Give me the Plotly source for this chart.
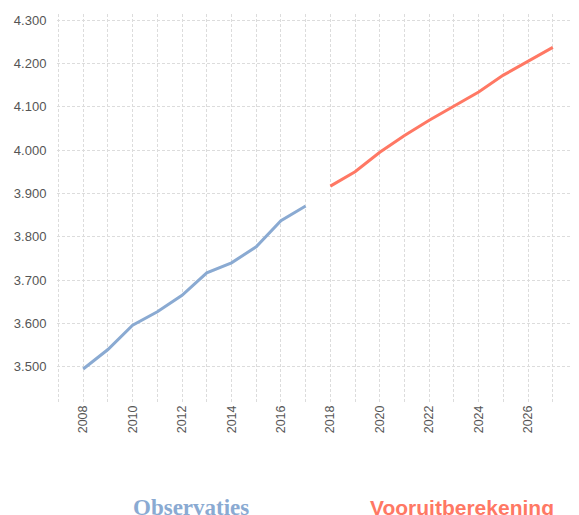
import plotly.graph_objects as go

obs_years = [2008, 2009, 2010, 2011, 2012, 2013, 2014, 2015, 2016, 2017]
obs_values = [3495, 3540, 3596, 3627, 3665, 3717, 3740, 3777, 3837, 3871]

fc_years = [2018, 2019, 2020, 2021, 2022, 2023, 2024, 2025, 2026, 2027]
fc_values = [3917, 3950, 3995, 4034, 4069, 4102, 4134, 4173, 4206, 4237]

legend_labels = ["Observaties", "Vooruitberekening"]
blue = "#8AAAD2"
red = "#FF7864"

fig = go.Figure()
fig.add_trace(go.Scatter(x=obs_years, y=obs_values, mode="lines",
                         line=dict(color=blue, width=3), name=legend_labels[0]))
fig.add_trace(go.Scatter(x=fc_years, y=fc_values, mode="lines",
                         line=dict(color=red, width=3), name=legend_labels[1]))

# the page body adds an 8px offset; compensate so the figure fills the window
OFF = 8
W, H = 579 - OFF, 515 - OFF
L, T, B = 57 - OFF, 14 - OFF, 113
plot_h = H - T - B
plot_w = W - L

def px_to_paper_y(py):
    return (H - B - (py - OFF)) / plot_h

def px_to_paper_x(px):
    return ((px - OFF) - L) / plot_w

grid = dict(showgrid=True, gridcolor="#dcdcdc", griddash="3px,2px", gridwidth=1)

fig.update_layout(
    width=W, height=H,
    margin=dict(l=L, r=0, t=T, b=B),
    plot_bgcolor="white", paper_bgcolor="white",
    showlegend=False,
    separators=",.",
    font=dict(family="Liberation Sans, Arial, sans-serif", size=13, color="#555555"),
    xaxis=dict(
        range=[2006.94, 2028.06],
        tick0=2008, dtick=2,
        tickangle=-90,
        ticklabeloverflow="allow",
        minor=dict(dtick=1, tick0=2008, **grid),
        ticks="", 
        zeroline=False, showline=False, automargin=False,
        tickfont=dict(size=12.5, color="#555555"),
        **grid,
    ),
    yaxis=dict(
        range=[3419, 4314],
        tick0=3500, dtick=100,
        tickformat=",d",
        ticks="outside", ticklen=7, tickcolor="rgba(0,0,0,0)",
        zeroline=False, showline=False, automargin=False,
        tickfont=dict(size=13, color="#555555"),
        **grid,
    ),
    annotations=[
        dict(text="<b>" + legend_labels[0] + "</b>", xref="paper", yref="paper",
             x=px_to_paper_x(191), y=px_to_paper_y(507.5), showarrow=False,
             xanchor="center", yanchor="middle",
             font=dict(family="Liberation Serif, DejaVu Serif, serif", size=23, color=blue)),
        dict(text="<b>" + legend_labels[1] + "</b>", xref="paper", yref="paper",
             x=px_to_paper_x(461.5), y=px_to_paper_y(507.5), showarrow=False,
             xanchor="center", yanchor="middle",
             font=dict(family="Liberation Sans, Arial, sans-serif", size=21, color=red)),
    ],
)

fig.write_html("out.html")
